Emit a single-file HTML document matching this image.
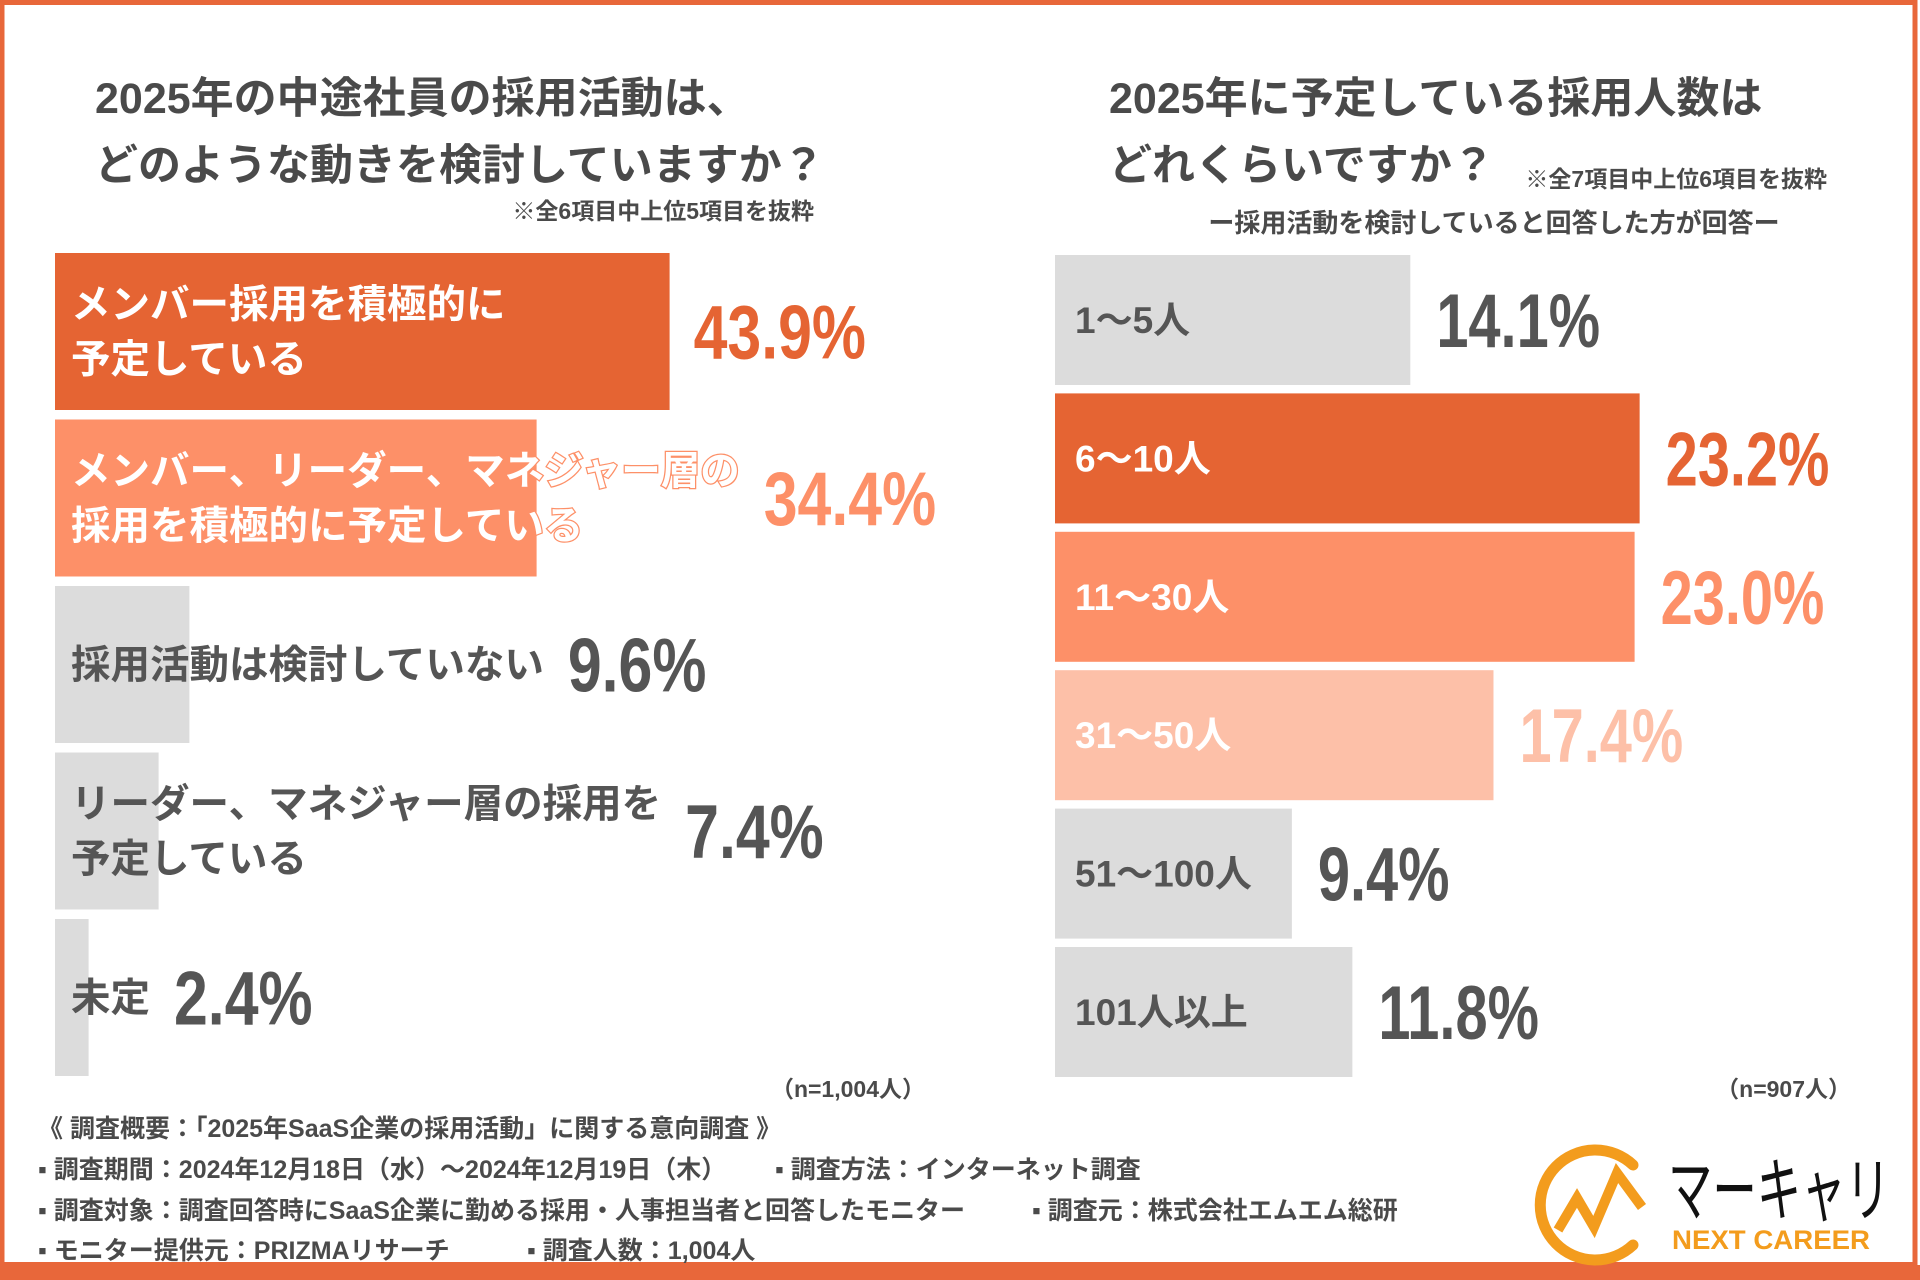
<!DOCTYPE html>
<html><head><meta charset="utf-8">
<style>
html,body{margin:0;padding:0;background:#fff;}
svg{display:block;font-family:"Liberation Sans","Noto Sans CJK JP",sans-serif;}
</style></head>
<body>
<svg id="chart" width="1920" height="1280" viewBox="0 0 1920 1280" xmlns="http://www.w3.org/2000/svg">
<rect x="0" y="0" width="1920" height="1280" fill="#fff"/>
<rect x="2" y="2.5" width="1913" height="1262" fill="none" stroke="#e8673a" stroke-width="5"/>
<rect x="0" y="1265" width="1920" height="15" fill="#e8673a"/>

<g fill="#4a4a4a" font-weight="bold">
<text x="95" y="113" font-size="43">2025年の中途社員の採用活動は、</text>
<text x="95" y="180" font-size="43">どのような動きを検討していますか？</text>
<text x="814" y="219" font-size="23" text-anchor="end">※全6項目中上位5項目を抜粋</text>
</g>
<g fill="#4a4a4a" font-weight="bold">
<text x="1109" y="113" font-size="43">2025年に予定している採用人数は</text>
<text x="1109" y="180" font-size="43">どれくらいですか？</text>
<text x="1827" y="187" font-size="23" text-anchor="end">※全7項目中上位6項目を抜粋</text>
<text x="1494" y="232" font-size="26" text-anchor="middle">ー採用活動を検討していると回答した方が回答ー</text>
</g>

<g id="left-bars"></g>
<g id="right-bars"></g>

<text x="925" y="1097" font-size="23" font-weight="bold" fill="#4a4a4a" text-anchor="end">（n=1,004人）</text>
<text x="1851" y="1097" font-size="23" font-weight="bold" fill="#4a4a4a" text-anchor="end">（n=907人）</text>

<g fill="#4a4a4a" font-weight="bold" font-size="25">
<text x="38" y="1137">《 調査概要：「2025年SaaS企業の採用活動」に関する意向調査 》</text>
<text x="38" y="1178">▪ 調査期間：2024年12月18日（水）～2024年12月19日（木）</text>
<text x="775" y="1178">▪ 調査方法：インターネット調査</text>
<text x="38" y="1219">▪ 調査対象：調査回答時にSaaS企業に勤める採用・人事担当者と回答したモニター</text>
<text x="1032" y="1219">▪ 調査元：株式会社エムエム総研</text>
<text x="38" y="1259">▪ モニター提供元：PRIZMAリサーチ</text>
<text x="527" y="1259">▪ 調査人数：1,004人</text>
</g>

<g>
<path d="M1633 1165 A55 55 0 1 0 1633 1245" fill="none" stroke="#f39c1d" stroke-width="11" stroke-linecap="round"/>
<polyline points="1558,1230 1577,1198 1594,1227 1617,1173 1642,1207" fill="none" stroke="#f39c1d" stroke-width="10" stroke-linejoin="miter"/>
<text x="1668" y="1215" font-size="70" fill="#111" textLength="222" lengthAdjust="spacingAndGlyphs">マーキャリ</text>
<text x="1672" y="1249" font-size="27" font-weight="bold" fill="#f39c1d" textLength="198" lengthAdjust="spacingAndGlyphs">NEXT CAREER</text>
</g>
</svg>
<script>
// Left chart data
const leftCategories = [["メンバー採用を積極的に","予定している"],["メンバー、リーダー、マネジャー層の","採用を積極的に予定している"],["採用活動は検討していない"],["リーダー、マネジャー層の採用を","予定している"],["未定"]];
const leftValues = [43.9, 34.4, 9.6, 7.4, 2.4];
const leftLabels = ["43.9%","34.4%","9.6%","7.4%","2.4%"];
// Right chart data
const rightCategories = ["1〜5人","6〜10人","11〜30人","31〜50人","51〜100人","101人以上"];
const rightValues = [14.1, 23.2, 23.0, 17.4, 9.4, 11.8];
const rightLabels = ["14.1%","23.2%","23.0%","17.4%","9.4%","11.8%"];

const NS = "http://www.w3.org/2000/svg";
function mk(tag, attrs, parent){const e=document.createElementNS(NS,tag);for(const k in attrs)e.setAttribute(k,attrs[k]);parent.appendChild(e);return e;}
// Left axis
const lx0=55, lScale=14.0, lY0=253, lPitch=166.5, lH=157;
const lxs=v=>v*lScale;
const lg=document.getElementById('left-bars');
const lSorted=[...leftValues].sort((a,b)=>b-a);
leftValues.forEach((v,i)=>{
  let st;
  if(v===lSorted[0]) st={bar:"#e56433",txt:"#fff",val:"#e56433"};
  else if(v===lSorted[1]) st={bar:"#fd9068",txt:"#fff",val:"#fd9068"};
  else st={bar:"#dcdcdc",txt:"#555",val:"#555"};
  const y=lY0+i*lPitch;
  const r=mk('rect',{x:lx0,y:y,width:lxs(v),height:lH,fill:st.bar},lg);
  
  
  const lines=leftCategories[i];
  const cy=y+lH/2;
  let maxW=0;
  lines.forEach((ln,j)=>{
    const ty=cy+(j-(lines.length-1)/2)*55+14;
    const t=mk('text',{x:71,y:ty,'font-size':39.5,'font-weight':'bold',fill:st.txt},lg);
    if(v===lSorted[1]){t.setAttribute('stroke','#fd9068');t.setAttribute('stroke-width','2.5');t.setAttribute('paint-order','stroke');}
    t.textContent=ln;
    
    
    maxW=Math.max(maxW,t.getComputedTextLength());
  });
  const endX=Math.max(lx0+lxs(v), 71+maxW)+24;
  const vt=mk('text',{x:0,y:cy+27,'font-size':76,'font-weight':'bold',fill:st.val,transform:'translate('+endX+',0) scale(0.8,1)'},lg);
  vt.textContent=leftLabels[i];
  
  
});
// Right axis
const rx0=1055, rScale=25.2, rY0=255, rPitch=138.4, rH=130;
const rxs=v=>v*rScale;
const rg=document.getElementById('right-bars');
const rSorted=[...rightValues].sort((a,b)=>b-a);
rightValues.forEach((v,i)=>{
  let st;
  if(v===rSorted[0]) st={bar:"#e56433",txt:"#fff",val:"#e56433"};
  else if(v===rSorted[1]) st={bar:"#fd9068",txt:"#fff",val:"#fd9068"};
  else if(v===rSorted[2]) st={bar:"#fdc0a8",txt:"#fff",val:"#fdc0a8"};
  else st={bar:"#dcdcdc",txt:"#555",val:"#555"};
  const y=rY0+i*rPitch;
  const r=mk('rect',{x:rx0,y:y,width:rxs(v),height:rH,fill:st.bar},rg);
  
  
  const t=mk('text',{x:1075,y:y+rH/2+13,'font-size':37,'font-weight':'bold',fill:st.txt},rg);
  t.textContent=rightCategories[i];
  
  
  const endX=rx0+rxs(v)+26;
  const vt=mk('text',{x:0,y:y+rH/2+27,'font-size':76,'font-weight':'bold',fill:st.val,transform:'translate('+endX+',0) scale(0.76,1)'},rg);
  vt.textContent=rightLabels[i];
  
  
});
</script>
</body></html>
